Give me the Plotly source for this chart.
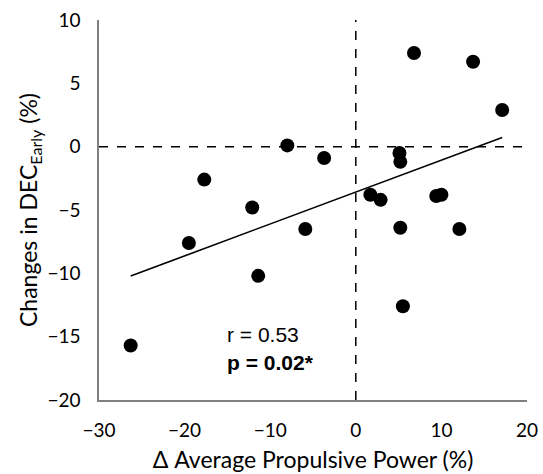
import numpy as np
import plotly.graph_objects as go

# Change in average propulsive power (%) per participant
power_change = [6.8, 13.7, 17.1, -8.0, -3.7, 5.1, 5.2, -17.7, 1.7, 2.9,
                9.4, 10.0, -12.1, -19.5, -5.9, 5.2, 12.1, -11.4, 5.5, -26.3]
# Change in early deceleration (%) per participant
dec_change = [7.4, 6.7, 2.9, 0.1, -0.9, -0.5, -1.2, -2.6, -3.8, -4.2,
              -3.9, -3.8, -4.8, -7.6, -6.5, -6.4, -6.5, -10.2, -12.6, -15.7]

r_label = "r = 0.53"
p_label = "<b>p = 0.02*</b>"

x_ticks = [-30, -20, -10, 0, 10, 20]
y_ticks = [-20, -15, -10, -5, 0, 5, 10]

# Least-squares trend line spanning the observed range
slope, intercept = np.polyfit(power_change, dec_change, 1)
fit_x = [min(power_change), max(power_change)]
fit_y = [slope * v + intercept for v in fit_x]

base_family = "Lato, Noto Sans, sans-serif"
tick_font = dict(family=base_family, size=19, color="#000000")
title_font = dict(family=base_family, size=23, color="#000000")
stat_font = dict(family="Liberation Sans, Arial, sans-serif", size=21, color="#000000")

fig = go.Figure()
fig.add_trace(go.Scatter(x=fit_x, y=fit_y, mode="lines",
                         line=dict(color="#000000", width=1.6),
                         hoverinfo="skip", showlegend=False))
fig.add_trace(go.Scatter(x=power_change, y=dec_change, mode="markers",
                         marker=dict(color="#000000", size=14),
                         showlegend=False))

fig.add_vline(x=0, line=dict(color="#000000", width=1.5, dash="dash"))
fig.add_hline(y=0, line=dict(color="#000000", width=1.5, dash="dash"))

fig.add_annotation(x=-15.3, y=-14.8, text=r_label, showarrow=False,
                   xanchor="left", yanchor="middle", font=stat_font)
fig.add_annotation(x=-15.3, y=-17.0, text=p_label, showarrow=False,
                   xanchor="left", yanchor="middle", font=stat_font)

fig.update_layout(
    width=543, height=474,
    margin=dict(l=99, r=16, t=20, b=74),
    paper_bgcolor="#ffffff", plot_bgcolor="#ffffff",
    showlegend=False,
)
fig.update_xaxes(
    range=[-30, 20], tickvals=x_ticks, showgrid=False, zeroline=False,
    showline=True, linecolor="#808080", linewidth=1.5, automargin=False,
    ticks="", ticklabelstandoff=12, tickfont=tick_font,
    title=dict(text="Δ Average Propulsive Power (%)", standoff=12, font=title_font),
)
fig.update_yaxes(
    range=[-20, 10], tickvals=y_ticks, showgrid=False, zeroline=False,
    showline=True, linecolor="#808080", linewidth=1.5, automargin=False,
    ticks="", ticklabelstandoff=13, tickfont=tick_font,
    title=dict(text="Changes in DEC<sub>Early</sub> (%)", standoff=3, font=title_font),
)

fig.write_html("out.html")
